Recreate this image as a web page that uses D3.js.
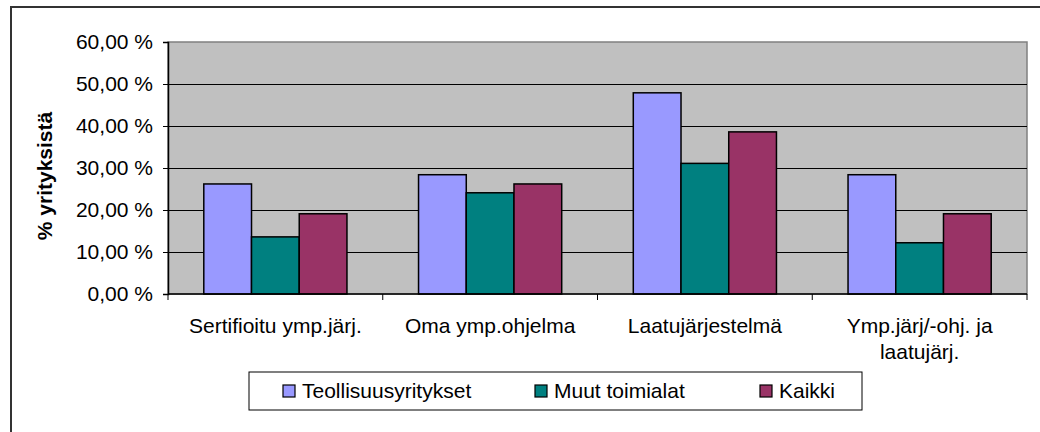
<!doctype html>
<html>
	<head>
		<meta charset="UTF-8">
		<title>Ympäristöjärjestelmät</title>
		<script src="https://d3js.org/d3.v7.min.js"></script>
		<style>
			body { margin: 0; background: #ffffff; }
			svg { display: block; }
		</style>
	</head>
	<body>
		<script>

// -------------------------------------- data

		var categories = [
			["Sertifioitu ymp.järj."],
			["Oma ymp.ohjelma"],
			["Laatujärjestelmä"],
			["Ymp.järj/-ohj. ja", "laatujärj."]
		];
		var seriesNames = ["Teollisuusyritykset", "Muut toimialat", "Kaikki"];
		var teollisuus = [26.2, 28.4, 47.9, 28.4];
		var muut = [13.6, 24.1, 31.1, 12.2];
		var kaikki = [19.1, 26.2, 38.6, 19.1];
		var yTicks = [0, 10, 20, 30, 40, 50, 60];

// -------------------------------------- colors

		var series_cols = ["#9999ff", "#008080", "#993366"];
		var plot_col = "#c0c0c0";
		var frame_col = "#333333";
		var border_col = "#808080";

// -------------------------------------- board

		var W = 1040, H = 432;
		var plot = { left: 168, top: 42, right: 1027, bottom: 294 };
		var font = "Arial, 'Liberation Sans', sans-serif";

		var svg = d3.select("body").append("svg")
			.attr("width", W)
			.attr("height", H);

		// outer chart frame (runs off the right and bottom edge)
		svg.append("rect")
			.attr("x", 11).attr("y", 7)
			.attr("width", 1040).attr("height", 440)
			.style("fill", "#ffffff")
			.style("stroke", frame_col)
			.style("stroke-width", 2);

// -------------------------------------- scales

		var x0 = d3.scaleBand()
			.domain(d3.range(categories.length))
			.range([plot.left, plot.right])
			.paddingInner(0.6 / 1.8)
			.paddingOuter(0.3 / 1.8);

		var x1 = d3.scaleBand()
			.domain(d3.range(seriesNames.length))
			.range([0, x0.bandwidth()]);

		var y = d3.scaleLinear()
			.domain([0, 60])
			.range([plot.bottom, plot.top]);

		var series = [teollisuus, muut, kaikki];

// -------------------------------------- plot area

		svg.append("rect")
			.attr("x", plot.left).attr("y", plot.top)
			.attr("width", plot.right - plot.left)
			.attr("height", plot.bottom - plot.top)
			.style("fill", plot_col)
			.style("stroke", border_col)
			.style("stroke-width", 1.5);

		// gridlines
		svg.selectAll("line.grid")
			.data(yTicks.filter(d => d > 0 && d < 60))
			.enter().append("line")
			.attr("class", "grid")
			.attr("x1", plot.left).attr("x2", plot.right)
			.attr("y1", d => Math.round(y(d)) + 0.5)
			.attr("y2", d => Math.round(y(d)) + 0.5)
			.style("stroke", "#000000")
			.style("stroke-width", 1);

// -------------------------------------- bars

		var groups = svg.selectAll("g.group")
			.data(categories)
			.enter().append("g")
			.attr("class", "group")
			.attr("transform", (d, i) => "translate(" + x0(i) + ",0)");

		groups.selectAll("rect.bar")
			.data((d, i) => series.map((s, k) => ({ k: k, v: s[i] })))
			.enter().append("rect")
			.attr("class", "bar")
			.attr("x", d => x1(d.k))
			.attr("y", d => y(d.v))
			.attr("width", x1.bandwidth())
			.attr("height", d => y(0) - y(d.v))
			.style("fill", d => series_cols[d.k])
			.style("stroke", "#000000")
			.style("stroke-width", 1.5);

// -------------------------------------- axes

		var yAxis = d3.axisLeft(y)
			.tickValues(yTicks)
			.tickSize(5)
			.tickPadding(10)
			.tickFormat(d => d3.format(".2f")(d).replace(".", ",") + " %");

		var gy = svg.append("g")
			.attr("transform", "translate(" + plot.left + ",0)")
			.call(yAxis);
		gy.select(".domain").style("stroke", "#000000").style("stroke-width", 1.5);
		gy.selectAll(".tick line").style("stroke", "#000000");
		gy.selectAll(".tick text")
			.style("font-family", font)
			.style("font-size", "21px")
			.style("fill", "#000000");

		// bottom axis line + category ticks
		svg.append("line")
			.attr("x1", plot.left).attr("x2", plot.right)
			.attr("y1", plot.bottom).attr("y2", plot.bottom)
			.style("stroke", "#000000")
			.style("stroke-width", 1.5);

		var step = x0.step();
		svg.selectAll("line.xtick")
			.data(d3.range(categories.length + 1))
			.enter().append("line")
			.attr("class", "xtick")
			.attr("x1", d => plot.left + d * step)
			.attr("x2", d => plot.left + d * step)
			.attr("y1", plot.bottom).attr("y2", plot.bottom + 6)
			.style("stroke", "#000000")
			.style("stroke-width", 1);

		// category labels
		var labels = svg.selectAll("text.cat")
			.data(categories)
			.enter().append("text")
			.attr("class", "cat")
			.attr("x", (d, i) => x0(i) + x0.bandwidth() / 2)
			.attr("y", 333)
			.attr("text-anchor", "middle")
			.style("font-family", font)
			.style("font-size", "21px")
			.style("fill", "#000000");

		labels.selectAll("tspan")
			.data(d => d)
			.enter().append("tspan")
			.attr("x", function () { return d3.select(this.parentNode).attr("x"); })
			.attr("dy", (d, i) => i === 0 ? 0 : 26)
			.text(d => d);

		// y title
		svg.append("text")
			.attr("transform", "translate(52," + 176 + ") rotate(-90)")
			.attr("text-anchor", "middle")
			.style("font-family", font)
			.style("font-size", "21px")
			.style("font-weight", "bold")
			.text("% yrityksistä");

// -------------------------------------- legend

		var legend = svg.append("g");

		legend.append("rect")
			.attr("x", 249).attr("y", 372)
			.attr("width", 613).attr("height", 38)
			.style("fill", "#ffffff")
			.style("stroke", "#000000")
			.style("stroke-width", 1);

		var legendX = [283, 535, 760];

		var items = legend.selectAll("g.item")
			.data(seriesNames)
			.enter().append("g")
			.attr("class", "item")
			.attr("transform", (d, i) => "translate(" + legendX[i] + ",385)");

		items.append("rect")
			.attr("width", 12).attr("height", 12)
			.style("fill", (d, i) => series_cols[i])
			.style("stroke", "#000000")
			.style("stroke-width", 1.2);

		items.append("text")
			.attr("x", 19)
			.attr("y", 13)
			.style("font-family", font)
			.style("font-size", "21px")
			.text(d => d);

		</script>
	</body>
</html>
